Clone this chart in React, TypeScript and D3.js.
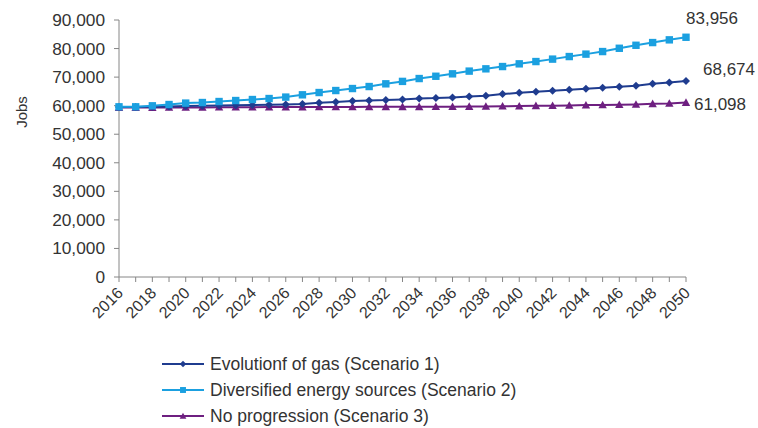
import React from "react";
import * as d3 from "d3";

const years: number[] = d3.range(2016, 2051);
const scenario1: number[] = [
  59500, 59550, 59650, 59750, 59850, 59950, 60050, 60150, 60250, 60350,
  60450, 60550, 61000, 61250, 61600, 61850, 61950, 62200, 62550, 62650,
  62900, 63250, 63450, 64050, 64500, 64850, 65200, 65550, 65900, 66250,
  66600, 66950, 67650, 68150, 68674,
];
const scenario2: number[] = [
  59600, 59600, 59950, 60400, 60900, 61100, 61450, 61800, 62150, 62500,
  63000, 63800, 64600, 65300, 66000, 66700, 67650, 68500, 69500, 70300,
  71150, 72100, 72900, 73700, 74650, 75450, 76300, 77200, 78050, 78950,
  80100, 81150, 82100, 83050, 83956,
];
const scenario3: number[] = [
  59350, 59350, 59350, 59400, 59400, 59400, 59450, 59450, 59450, 59500,
  59500, 59500, 59550, 59550, 59550, 59600, 59600, 59600, 59600, 59650,
  59650, 59700, 59750, 59800, 59850, 59950, 60000, 60100, 60200, 60250,
  60350, 60450, 60650, 60800, 61098,
];
const yTicks: number[] = d3.range(0, 90001, 10000);
const seriesNames: string[] = [
  "Evolutionf of gas (Scenario 1)",
  "Diversified energy sources (Scenario 2)",
  "No progression (Scenario 3)",
];

const colors = ["#1F3C8F", "#1BA0E0", "#6E1F80"];
const fmt = d3.format(",");
const FONT = "Liberation Sans, Arial, sans-serif";

export default function App() {
  const W = 758, H = 428;
  const x = d3.scaleLinear().domain([2016, 2050]).range([119, 686]);
  const y = d3.scaleLinear().domain([0, 90000]).range([277, 20]);
  const series = [scenario1, scenario2, scenario3];
  const line = (vals: number[]) =>
    d3.line<number>().x((_, i) => x(years[i])).y((d) => y(d))(vals) || "";

  const marker = (k: number, cx: number, cy: number, key: string | number, s = 1) => {
    const c = colors[k];
    if (k === 0) {
      const r = 4 * s;
      return <path key={key} d={`M${cx},${cy - r}L${cx + r},${cy}L${cx},${cy + r}L${cx - r},${cy}Z`} fill={c} />;
    }
    if (k === 1) {
      const r = 3.7 * s;
      return <rect key={key} x={cx - r} y={cy - r} width={2 * r} height={2 * r} fill={c} />;
    }
    const r = 4.2 * s;
    return <path key={key} d={`M${cx},${cy - r}L${cx + r},${cy + r * 0.8}L${cx - r},${cy + r * 0.8}Z`} fill={c} />;
  };

  const endLabels = [
    { k: 1, text: fmt(scenario2[34]), dx: 0, dy: -19 },
    { k: 0, text: fmt(scenario1[34]), dx: 17, dy: -12 },
    { k: 2, text: fmt(scenario3[34]), dx: 8, dy: 2 },
  ];

  return (
    <svg width={W} height={H} style={{ display: "block", position: "absolute", left: 0, top: 0, background: "#fff" }} fontFamily={FONT}>
      {/* y axis */}
      <line x1={119} x2={119} y1={y(90000)} y2={y(0)} stroke="#868686" strokeWidth={1} />
      {yTicks.map((t) => (
        <g key={t}>
          <line x1={114} x2={119} y1={y(t)} y2={y(t)} stroke="#868686" />
          <text x={105} y={y(t)} dy="0.35em" textAnchor="end" fontSize={17.3} fill="#333">
            {fmt(t)}
          </text>
        </g>
      ))}
      <text transform={`translate(27,112) rotate(-90)`} textAnchor="middle" fontSize={15} fill="#333">
        Jobs
      </text>
      {/* x axis */}
      <line x1={119} x2={686} y1={277} y2={277} stroke="#868686" />
      {years.map((yr) => (
        <line key={yr} x1={x(yr)} x2={x(yr)} y1={277} y2={282} stroke="#868686" />
      ))}
      {years.filter((yr) => (yr - 2016) % 2 === 0).map((yr) => (
        <text key={yr} transform={`translate(${x(yr) + 5},${294}) rotate(-45)`} textAnchor="end" fontSize={16} fill="#333">
          {yr}
        </text>
      ))}
      {/* lines */}
      {[2, 0, 1].map((k) => (
        <g key={k}>
          <path d={line(series[k])} fill="none" stroke={colors[k]} strokeWidth={2} />
          {series[k].map((v, i) => marker(k, x(years[i]), y(v), i))}
        </g>
      ))}
      {endLabels.map((l) => (
        <text key={l.k} x={x(2050) + l.dx} y={y(series[l.k][34]) + l.dy} dy="0.35em" fontSize={17} fill="#333">
          {l.text}
        </text>
      ))}
      {/* legend */}
      {seriesNames.map((n, k) => {
        const ly = 364 + k * 26;
        return (
          <g key={n}>
            <line x1={162} x2={204} y1={ly} y2={ly} stroke={colors[k]} strokeWidth={2} />
            {marker(k, 183, ly, "m", 0.8)}
            <text x={210} y={ly} dy="0.35em" fontSize={17.5} fill="#333">
              {n}
            </text>
          </g>
        );
      })}
    </svg>
  );
}
